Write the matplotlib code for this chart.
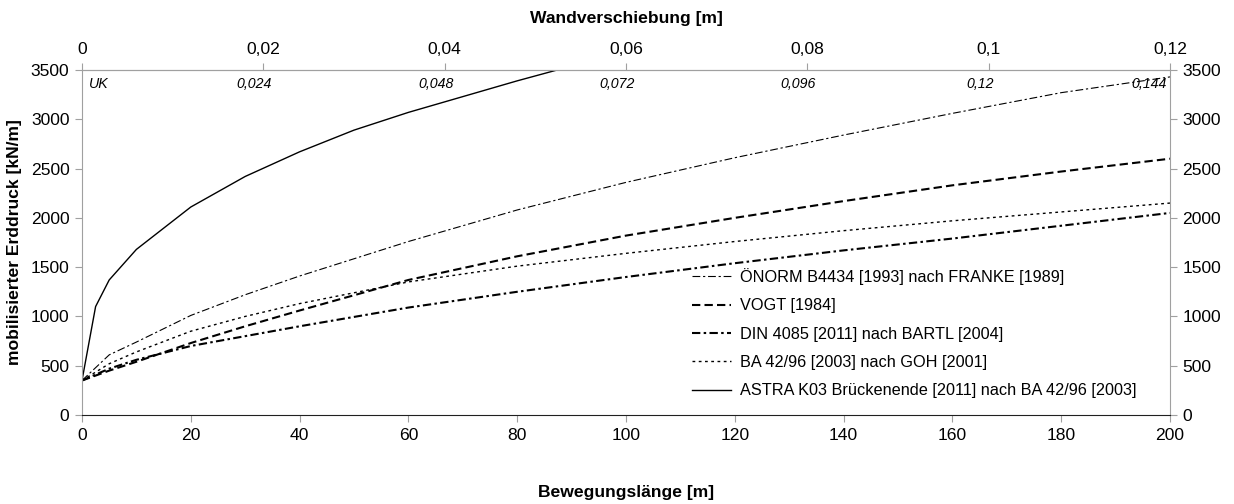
import numpy as np
import matplotlib
matplotlib.use("Agg")
import matplotlib.pyplot as plt
from matplotlib.ticker import FuncFormatter

plt.rcParams['font.family'] = ['Liberation Sans', 'DejaVu Sans']
plt.rcParams['font.size'] = 12.6

# Bewegungslänge [m] und mobilisierter Erddruck [kN/m]
x_onorm = [0, 5, 10, 20, 30, 40, 60, 80, 100, 120, 140, 160, 180, 200]
y_onorm = [350, 610, 740, 1010, 1220, 1410, 1760, 2080, 2360, 2610, 2840, 3060, 3270, 3430]

x_vogt = [0, 5, 10, 20, 30, 40, 60, 80, 100, 120, 140, 160, 180, 200]
y_vogt = [350, 450, 540, 730, 900, 1060, 1370, 1610, 1820, 2000, 2170, 2330, 2470, 2600]

x_din = [0, 5, 10, 20, 30, 40, 60, 80, 100, 120, 140, 160, 180, 200]
y_din = [350, 470, 560, 700, 800, 900, 1090, 1250, 1400, 1540, 1670, 1790, 1920, 2050]

x_ba = [0, 5, 10, 20, 30, 40, 60, 80, 100, 120, 140, 160, 180, 200]
y_ba = [350, 520, 640, 850, 1000, 1130, 1350, 1510, 1640, 1760, 1870, 1970, 2060, 2150]

x_astra = [0, 2.5, 5, 10, 20, 30, 40, 50, 60, 70, 80, 90]
y_astra = [350, 1100, 1370, 1680, 2110, 2420, 2670, 2890, 3070, 3230, 3390, 3540]

labels = [
    'ÖNORM B4434 [1993] nach FRANKE [1989]',
    'VOGT [1984]',
    'DIN 4085 [2011] nach BARTL [2004]',
    'BA 42/96 [2003] nach GOH [2001]',
    'ASTRA K03 Brückenende [2011] nach BA 42/96 [2003]',
]

# Wandverschiebung an der Unterkante
uk_labels = ['UK', '0,024', '0,048', '0,072', '0,096', '0,12', '0,144']

x_max = 200
w_max = 0.12

fig = plt.figure(figsize=(12.34, 5.04), dpi=100)
ax = fig.add_axes([82 / 1234, 1 - 415 / 504, (1170 - 82) / 1234, (415 - 70) / 504])

ax.plot(x_onorm, y_onorm, color='black', lw=0.8, linestyle=(0, (7, 2.5, 2, 2.5)), label=labels[0])
ax.plot(x_vogt, y_vogt, color='black', lw=1.5, linestyle=(0, (4, 2)), label=labels[1])
ax.plot(x_din, y_din, color='black', lw=1.5, linestyle=(0, (4, 1.6, 1.2, 1.6)), label=labels[2])
ax.plot(x_ba, y_ba, color='black', lw=1.0, linestyle=(0, (2, 2.5)), label=labels[3])
ax.plot(x_astra, y_astra, color='black', lw=1.0, linestyle='-', label=labels[4])

ax.set_xlim(0, x_max)
ax.set_ylim(0, 3500)
ax.set_xticks(np.arange(0, 201, 20))
ax.set_yticks(np.arange(0, 3501, 500))

grey = '#a0a0a0'
for side in ['left', 'top', 'right']:
    ax.spines[side].set_color(grey)
ax.spines['bottom'].set_color('#202020')
ax.tick_params(axis='both', direction='out', length=5, color=grey, pad=4)
ax.tick_params(axis='y', right=True, labelright=True)

# obere Achse: Wandverschiebung
top = ax.secondary_xaxis('top', functions=(lambda x: x * w_max / x_max,
                                           lambda w: w * x_max / w_max))
top.set_xticks(np.arange(0, 0.1201, 0.02))
top.xaxis.set_major_formatter(FuncFormatter(lambda v, p: ('%g' % round(v, 3)).replace('.', ',')))
top.tick_params(direction='out', length=5, color=grey, pad=4)
top.spines['top'].set_color(grey)

# Achsentitel
fig.text(0.5 * (82 + 1170) / 1234, 1 - 18 / 504, 'Wandverschiebung [m]',
         ha='center', va='center', fontweight='bold')
fig.text(0.5 * (82 + 1170) / 1234, 1 - 492 / 504, 'Bewegungslänge [m]',
         ha='center', va='center', fontweight='bold')
fig.text(15 / 1234, 1 - 242 / 504, 'mobilisierter Erddruck [kN/m]',
         ha='center', va='center', rotation=90, fontweight='bold')

# Beschriftung der Verschiebung an der Unterkante
n = len(uk_labels)
for i, txt in enumerate(uk_labels):
    xp = i * x_max / (n - 1)
    if i == 0:
        xp, ha = 1.3, 'left'
    elif i == n - 1:
        xp, ha = 199.4, 'right'
    else:
        xp, ha = xp - 1.65, 'center'
    ax.text(xp, 0.96, txt, transform=ax.get_xaxis_transform(), ha=ha, va='center',
            fontsize=10.2, style='italic')

leg = ax.legend(loc='upper left', bbox_to_anchor=(692 / 1234, 1 - 268 / 504),
                bbox_transform=fig.transFigure, frameon=False, borderpad=0,
                borderaxespad=0, handlelength=2.4, handletextpad=0.55,
                labelspacing=0.82, fontsize=11.7)

fig.savefig('out.png', dpi=100)
